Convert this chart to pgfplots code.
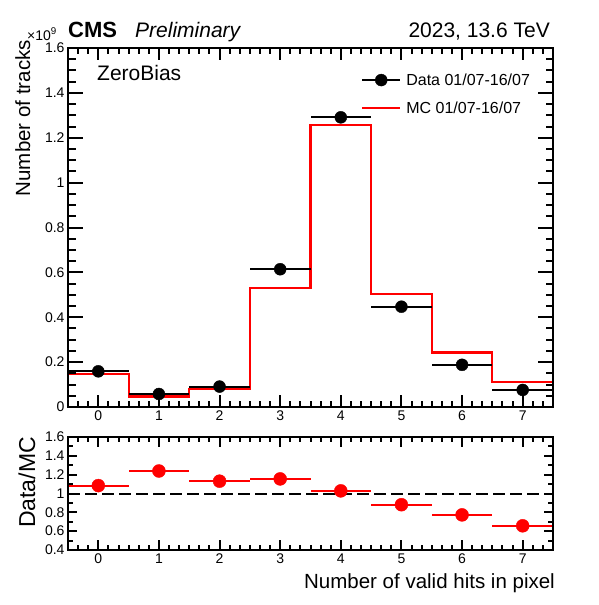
\documentclass[border=0pt]{standalone}
\usepackage{fontspec}
\setmainfont{Liberation Sans}
\usepackage{pgfplots}
\pgfplotsset{compat=1.18}

\pgfplotsset{
  rootaxis/.style={
    scale only axis,
    width=485pt,
    xmin=-0.5, xmax=7.5,
    xtick={0,1,2,3,4,5,6,7},
    major tick length=0pt,
    minor tick length=0pt,
    axis line style={line width=2pt},
    tick label style={font=\fontsize{14}{14}\selectfont},
    /pgf/number format/assume math mode=true,
    clip=false,
  }
}

\begin{document}
\begin{tikzpicture}
\path[use as bounding box] (0pt,0pt) rectangle (598pt,-605pt);

% ---------- upper panel ----------
\begin{axis}[rootaxis,
  at={(68pt,-407pt)}, anchor=south west,
  height=359pt,
  ymin=0, ymax=1.6,
  ytick={0,0.2,0.4,0.6,0.8,1,1.2,1.4,1.6},
  legend style={draw=none, fill=none, at={(rel axis cs:0.604,0.935)}, anchor=north west,
     font=\fontsize{16}{16}\selectfont, row sep=11pt, column sep=3pt, inner sep=0pt},
  legend cell align=left,
]
\addplot[red, line width=2.2pt, const plot, forget plot]
  coordinates {(-0.5,0) (-0.5,0.148) (0.5,0.047) (1.5,0.080) (2.5,0.531) (3.5,1.257) (4.5,0.505) (5.5,0.243) (6.5,0.110) (7.5,0.110)};
\addplot[black, only marks, mark=*, mark size=6pt, forget plot,
  error bars/.cd, x dir=both, x explicit, error mark=none,
  error bar style={line width=2pt, black}]
  coordinates {
  (0,0.159) +- (0.5,0)
  (1,0.058) +- (0.5,0)
  (2,0.091) +- (0.5,0)
  (3,0.614) +- (0.5,0)
  (4,1.291) +- (0.5,0)
  (5,0.447) +- (0.5,0)
  (6,0.188) +- (0.5,0)
  (7,0.076) +- (0.5,0)
  };
\addlegendimage{legend image code/.code={\draw[black, line width=2pt] (0pt,0pt) -- (38pt,0pt); \fill[black] (19pt,0pt) circle (6pt);}}
\addlegendentry{Data 01/07-16/07}
\addlegendimage{legend image code/.code={\draw[red, line width=2.2pt] (0pt,0pt) -- (38pt,0pt);}}
\addlegendentry{MC 01/07-16/07}
\end{axis}

% ---------- ratio panel ----------
\begin{axis}[rootaxis,
  at={(68pt,-550pt)}, anchor=south west,
  height=113pt,
  ymin=0.4, ymax=1.6,
  ytick={0.4,0.6,0.8,1,1.2,1.4,1.6},
]
\addplot[black, line width=2pt, dash pattern=on 12pt off 5pt]
  coordinates {(-0.5,1) (7.5,1)};
\addplot[red, only marks, mark=*, mark size=6.5pt,
  error bars/.cd, x dir=both, x explicit, error mark=none,
  error bar style={line width=2pt, red}]
  coordinates {
  (0,1.084) +- (0.5,0)
  (1,1.239) +- (0.5,0)
  (2,1.131) +- (0.5,0)
  (3,1.155) +- (0.5,0)
  (4,1.028) +- (0.5,0)
  (5,0.881) +- (0.5,0)
  (6,0.773) +- (0.5,0)
  (7,0.657) +- (0.5,0)
  };
\end{axis}

% ---------- frames and ticks (ROOT style, inside, all four sides) ----------
\begin{scope}[x=1pt, y=1pt, line width=2pt, black]
  \draw (68,-48) rectangle (553,-407);
  \foreach \i in {0,...,48} {
    \draw ({68+\i*10.10417},-407) -- ++(0,6);
    \draw ({68+\i*10.10417},-48) -- ++(0,-6);
  }
  \foreach \k in {0,...,7} {
    \draw ({68+(\k+0.5)*60.625},-407) -- ++(0,12);
    \draw ({68+(\k+0.5)*60.625},-48) -- ++(0,-12);
  }
  \foreach \i in {0,...,32} {
    \draw (68,{-407+\i*11.21875}) -- ++(7.5,0);
    \draw (553,{-407+\i*11.21875}) -- ++(-7.5,0);
  }
  \foreach \k in {0,...,8} {
    \draw (68,{-407+\k*44.875}) -- ++(15,0);
    \draw (553,{-407+\k*44.875}) -- ++(-15,0);
  }
  \draw (68,-437) rectangle (553,-550);
  \foreach \i in {0,...,48} {
    \draw ({68+\i*10.10417},-550) -- ++(0,5);
    \draw ({68+\i*10.10417},-437) -- ++(0,-5);
  }
  \foreach \k in {0,...,7} {
    \draw ({68+(\k+0.5)*60.625},-550) -- ++(0,10);
    \draw ({68+(\k+0.5)*60.625},-437) -- ++(0,-10);
  }
  \foreach \i in {0,...,12} {
    \draw (68,{-550+\i*9.41667}) -- ++(5,0);
    \draw (553,{-550+\i*9.41667}) -- ++(-5,0);
  }
  \foreach \k in {0,...,6} {
    \draw (68,{-550+\k*18.83333}) -- ++(9,0);
    \draw (553,{-550+\k*18.83333}) -- ++(-9,0);
  }
\end{scope}

% ---------- texts ----------
\node[anchor=base west, inner sep=0pt, font=\bfseries\fontsize{22}{22}\selectfont] at (68pt,-37pt) {CMS};
\node[anchor=base west, inner sep=0pt, font=\itshape\fontsize{21}{21}\selectfont] at (135pt,-37pt) {Preliminary};
\node[anchor=base east, inner sep=0pt, font=\fontsize{21}{21}\selectfont] at (550pt,-37pt) {2023, 13.6 TeV};
\node[anchor=base west, inner sep=0pt, font=\fontsize{14}{14}\selectfont] at (27pt,-40pt) {×10\textsuperscript{9}};
\node[anchor=base west, inner sep=0pt, font=\fontsize{21}{21}\selectfont] at (97pt,-80pt) {ZeroBias};
\node[rotate=90, anchor=base east, inner sep=0pt, font=\fontsize{20.5}{20.5}\selectfont] at (30pt,-40pt) {Number of tracks};
\node[rotate=90, anchor=base east, inner sep=0pt, font=\fontsize{23}{23}\selectfont] at (35pt,-437pt) {Data/MC};
\node[anchor=base east, inner sep=0pt, font=\fontsize{20.5}{20.5}\selectfont] at (555pt,-588pt) {Number of valid hits in pixel};
\end{tikzpicture}
\end{document}
